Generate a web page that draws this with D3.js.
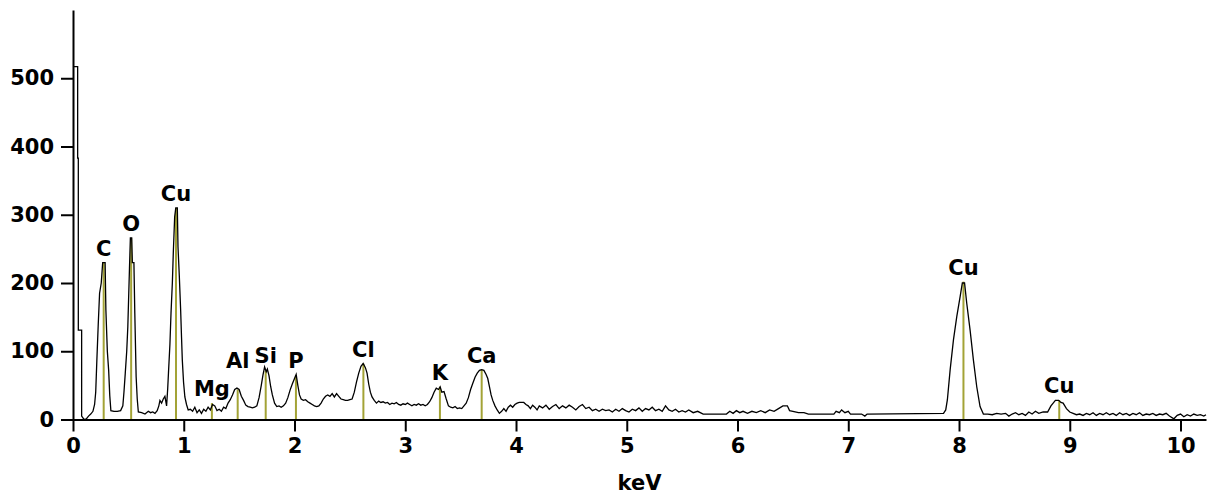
<!DOCTYPE html>
<html>
<head>
<meta charset="utf-8">
<style>
  body { margin: 0; background: #fff; }
  svg text { font-family: "DejaVu Sans", Verdana, sans-serif; font-weight: bold; fill: #000; }
</style>
<script src="https://cdn.jsdelivr.net/npm/d3@7"></script>
</head>
<body>
<div id="chart"></div>
<script>
// spectrum: [keV, counts]
var spectrum = [
  [0,517],[0.042,517],[0.042,383],[0.048,383],[0.048,131],[0.078,131],[0.078,5],[0.1,0],[0.12,1],[0.14,5],
  [0.16,8],[0.18,12],[0.195,22],[0.205,40],[0.215,85],[0.228,140],[0.24,185],[0.255,200],[0.268,230],[0.29,230],
  [0.297,160],[0.31,100],[0.322,72],[0.332,35],[0.342,13],[0.37,12],[0.40,12],[0.43,13],[0.45,20],
  [0.46,40],[0.472,68],[0.485,100],[0.495,136],[0.51,222],[0.518,266],[0.53,266],[0.536,230],[0.55,230],
  [0.558,156],[0.57,63],[0.58,30],[0.59,11],[0.62,10],[0.65,8],[0.68,12],[0.7,10],[0.72,11],[0.74,9],
  [0.76,13],[0.775,20],[0.785,28],[0.8,24],[0.815,30],[0.83,34],[0.845,20],[0.855,45],
  [0.862,68],[0.875,110],[0.885,156],[0.897,200],[0.906,246],[0.918,297],[0.928,310],[0.942,310],[0.948,253],
  [0.96,210],[0.972,160],[0.98,120],[0.987,87],[0.998,55],[1.01,33],[1.025,22],[1.04,14],
  [1.06,15],[1.08,12],[1.1,18],[1.12,10],[1.14,14],[1.16,9],[1.18,15],[1.2,12],[1.22,18],[1.24,14],
  [1.26,22],[1.28,20],[1.3,13],[1.32,15],[1.34,12],[1.36,18],[1.38,16],[1.4,24],[1.42,29],
  [1.44,36],[1.46,44],[1.48,46],[1.5,44],[1.52,34],[1.54,28],[1.56,21],[1.58,19],[1.6,18],[1.62,17],
  [1.64,18],[1.66,20],[1.68,32],[1.7,50],[1.715,65],[1.73,77],[1.745,70],[1.755,74],[1.77,64],[1.785,48],
  [1.8,36],[1.82,24],[1.84,19],[1.86,20],[1.88,18],[1.9,20],[1.92,24],[1.94,32],[1.96,43],[1.98,52],
  [2.0,60],[2.015,66],[2.03,50],[2.045,36],[2.06,30],[2.08,28],[2.1,29],[2.12,26],[2.14,24],[2.16,22],
  [2.18,20],[2.2,19],[2.22,20],[2.24,24],[2.26,30],[2.28,34],[2.3,36],[2.32,34],[2.34,38],[2.36,33],
  [2.38,38],[2.4,34],[2.42,30],[2.44,29],[2.46,28],[2.48,28],[2.5,29],[2.52,30],[2.54,40],[2.56,55],
  [2.58,68],[2.6,78],[2.62,82],[2.64,76],[2.655,68],[2.67,52],[2.685,40],[2.7,33],[2.72,28],[2.74,24],
  [2.76,27],[2.78,25],[2.8,26],[2.82,24],[2.84,25],[2.86,22],[2.88,24],[2.9,23],[2.92,25],[2.94,22],
  [2.96,21],[2.98,23],[3.0,22],[3.02,24],[3.04,22],[3.06,20],[3.08,22],[3.1,21],[3.12,23],[3.14,21],
  [3.16,22],[3.18,20],[3.2,22],[3.22,26],[3.24,32],[3.26,40],[3.28,46],[3.3,44],[3.315,48],[3.33,40],
  [3.35,41],[3.37,30],[3.39,20],[3.41,18],[3.43,17],[3.45,19],[3.47,16],[3.49,17],[3.51,16],[3.53,20],
  [3.55,24],[3.57,32],[3.59,44],[3.61,53],[3.63,62],[3.65,68],[3.67,72],[3.69,73],[3.71,72],[3.73,66],
  [3.745,60],[3.76,48],[3.775,36],[3.79,28],[3.81,20],[3.83,14],[3.85,9],[3.87,12],[3.89,16],[3.91,12],
  [3.93,18],[3.95,21],[3.97,18],[3.99,22],[4.01,24],[4.03,25],[4.05,25],[4.07,25],[4.09,22],[4.11,20],
  [4.13,16],[4.15,21],[4.17,18],[4.19,14],[4.21,20],[4.24,17],[4.27,21],[4.3,15],[4.33,19],[4.36,22],
  [4.39,16],[4.42,20],[4.45,17],[4.48,21],[4.51,18],[4.54,14],[4.57,19],[4.6,22],[4.63,16],[4.66,18],
  [4.69,13],[4.72,15],[4.75,12],[4.78,15],[4.81,13],[4.84,14],[4.87,11],[4.9,15],[4.93,12],[4.96,16],
  [4.99,13],[5.02,11],[5.05,15],[5.08,13],[5.11,17],[5.14,12],[5.17,16],[5.2,14],[5.23,18],[5.26,13],
  [5.29,15],[5.32,12],[5.35,20],[5.38,14],[5.41,12],[5.44,15],[5.47,11],[5.5,13],[5.53,11],[5.56,14],
  [5.6,10],[5.64,12],[5.69,8],[5.9,8],[5.93,12],[5.96,9],[5.99,13],[6.02,10],[6.05,12],[6.09,9],
  [6.13,12],[6.17,10],[6.21,13],[6.25,10],[6.29,14],[6.33,12],[6.37,16],[6.41,20],[6.45,20],[6.47,13],
  [6.5,12],[6.55,10],[6.6,10],[6.64,8],[6.87,8],[6.89,12],[6.92,10],[6.94,14],[6.97,10],[7.0,12],
  [7.02,8],[7.12,8],[7.15,5],[7.17,8],[7.86,9],[7.88,14],[7.895,29],[7.92,73],[7.95,117],[7.98,151],
  [8.01,180],[8.03,200],[8.05,200],[8.07,170],[8.1,131],[8.13,87],[8.16,48],[8.19,19],[8.22,8],[8.26,8],
  [8.3,7],[8.34,9],[8.38,8],[8.42,9],[8.45,5],[8.48,8],[8.51,10],[8.54,7],[8.57,9],[8.6,6],
  [8.63,11],[8.66,8],[8.69,12],[8.72,9],[8.76,11],[8.8,11],[8.83,20],[8.85,24],[8.87,28],[8.9,28],
  [8.92,25],[8.94,24],[8.97,16],[9.0,11],[9.03,9],[9.06,7],[9.09,8],[9.12,6],[9.15,9],[9.18,7],
  [9.21,10],[9.24,6],[9.27,9],[9.3,7],[9.33,10],[9.36,7],[9.39,9],[9.42,6],[9.45,10],[9.48,7],
  [9.51,9],[9.54,6],[9.57,9],[9.6,7],[9.63,10],[9.66,6],[9.69,8],[9.72,7],[9.75,9],[9.78,6],
  [9.81,8],[9.84,7],[9.87,9],[9.9,5],[9.94,1],[9.97,6],[10.0,8],[10.03,4],[10.06,7],[10.09,5],
  [10.12,8],[10.15,6],[10.18,7],[10.21,5],[10.23,7]
];

// element markers
var peakLabels = ["C", "O", "Cu", "Mg", "Al", "Si", "P", "Cl", "K", "Ca", "Cu", "Cu"];
var peakKeV    = [0.277, 0.525, 0.93, 1.254, 1.487, 1.74, 2.013, 2.622, 3.313, 3.69, 8.04, 8.905];
var peakTop    = [230, 266, 310, 24, 44, 72, 65, 82, 48, 73, 202, 28];

var xTicks = [0, 1, 2, 3, 4, 5, 6, 7, 8, 9, 10];
var yTicks = [0, 100, 200, 300, 400, 500];

var width = 1211, height = 498;
var plotLeft = 73, plotRight = 1206, plotTop = 10, plotBottom = 419.5;
var fontSize = "21px";

var svg = d3.select("#chart").append("svg")
    .attr("width", width)
    .attr("height", height);

var x = d3.scaleLinear().domain([0, 10.23]).range([plotLeft, plotRight]);
var y = d3.scaleLinear().domain([0, 600]).range([plotBottom, plotTop]);

// peak lines (under the spectrum)
svg.append("g").selectAll("line")
    .data(peakKeV)
    .enter().append("line")
    .attr("x1", function (d) { return x(d); })
    .attr("x2", function (d) { return x(d); })
    .attr("y1", y(0))
    .attr("y2", function (d, i) { return y(peakTop[i]); })
    .attr("stroke", "#a3a336")
    .attr("stroke-width", 2);

var line = d3.line()
    .x(function (d) { return x(d[0]); })
    .y(function (d) { return y(d[1]); });

svg.append("path")
    .datum(spectrum)
    .attr("d", line)
    .attr("fill", "none")
    .attr("stroke", "#000")
    .attr("stroke-width", 1.3)
    .attr("stroke-linejoin", "miter");

// labels above markers
svg.append("g").selectAll("text")
    .data(peakLabels)
    .enter().append("text")
    .attr("x", function (d, i) { return x(peakKeV[i]); })
    .attr("y", function (d, i) { return y(peakTop[i]) - 7 - (d === "Al" ? 14 : 0); })
    .attr("text-anchor", "middle")
    .style("font-size", fontSize)
    .text(function (d) { return d; });

// axes
var xAxis = svg.append("g")
    .attr("transform", "translate(0," + plotBottom + ")")
    .call(d3.axisBottom(x).tickValues(xTicks).tickSize(12).tickSizeOuter(0).tickPadding(7));
var yAxis = svg.append("g")
    .attr("transform", "translate(" + plotLeft + ",0)")
    .call(d3.axisLeft(y).tickValues(yTicks).tickSize(12).tickSizeOuter(0).tickPadding(7));

[xAxis, yAxis].forEach(function (g) {
  g.selectAll("path, line").attr("stroke", "#000").attr("stroke-width", 2);
  g.selectAll("text")
    .attr("fill", "#000")
    .style("font-family", "'DejaVu Sans', Verdana, sans-serif")
    .style("font-weight", "bold")
    .style("font-size", fontSize);
});

svg.append("text")
    .attr("x", (plotLeft + plotRight) / 2)
    .attr("y", 490)
    .attr("text-anchor", "middle")
    .style("font-size", fontSize)
    .text("keV");
</script>
</body>
</html>
